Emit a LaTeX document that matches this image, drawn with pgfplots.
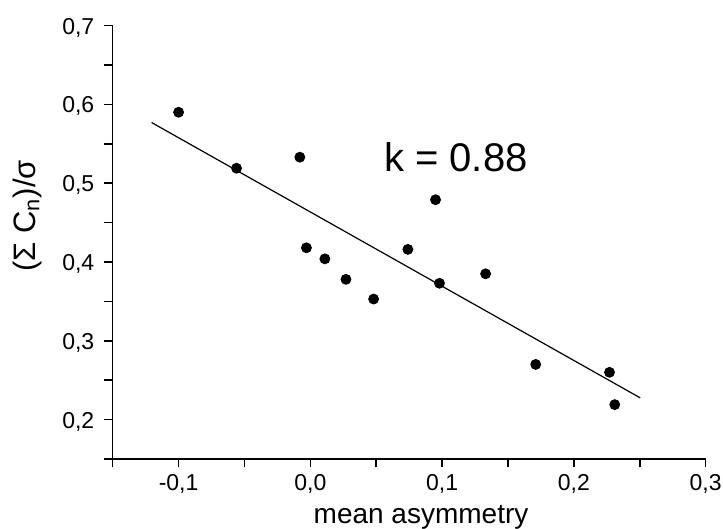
\documentclass[border=0pt]{standalone}
\usepackage{fontspec}
\setmainfont{Liberation Sans}
\usepackage{pgfplots}
\pgfplotsset{compat=1.18}

\begin{document}
\begin{tikzpicture}
    % page frame, 0.5pt per pixel of the reference
    \useasboundingbox (-56.35pt,-35pt) rectangle (305.15pt,229.5pt);
    \begin{axis}[
        at={(0,0)}, anchor=south west,
        scale only axis,
        width=296.5pt,
        height=216.7pt,
        axis lines=left,
        axis line style={-, line width=0.8pt},
        xmin=-0.15, xmax=0.3,
        ymin=0.15, ymax=0.7,
        xtick={-0.1,0,0.1,0.2,0.3},
        xticklabels={{-0,1},{0,0},{0,1},{0,2},{0,3}},
        minor xtick={-0.15,-0.05,0.05,0.15,0.25},
        ytick={0.2,0.3,0.4,0.5,0.6,0.7},
        yticklabels={{0,2},{0,3},{0,4},{0,5},{0,6},{0,7}},
        minor ytick={0.15,0.25,0.35,0.45,0.55,0.65},
        tick align=outside,
        major tick length=4.2pt,
        minor tick length=4.2pt,
        tick style={line width=0.8pt, black},
        ticklabel style={font=\fontsize{11.5}{13}\selectfont},
        yticklabel style={xshift=-1.5pt, yshift=-1pt},
        xlabel={mean asymmetry},
        xlabel style={at={(axis description cs:0.52,-0.148)}, anchor=base,
            font=\fontsize{14}{16}\selectfont},
        ylabel={(Σ C\textsubscript{n})/σ},
        ylabel style={at={(axis description cs:-0.1445,0.561)}, anchor=center,
            font=\fontsize{15.5}{17}\selectfont},
        clip=false
    ]
        % measured points
        \addplot[only marks, mark=*, mark size=2.5pt, black] coordinates {
            (-0.100, 0.590)
            (-0.056, 0.519)
            (-0.008, 0.533)
            (-0.003, 0.418)
            (0.011, 0.404)
            (0.027, 0.378)
            (0.048, 0.353)
            (0.074, 0.416)
            (0.095, 0.479)
            (0.098, 0.373)
            (0.133, 0.385)
            (0.171, 0.270)
            (0.227, 0.260)
            (0.231, 0.219)
        };
        % linear fit
        \addplot[black, line width=0.6pt] coordinates {
            (-0.1205, 0.577)
            (0.2503, 0.2276)
        };
        \node[anchor=base west, inner sep=0pt, font=\fontsize{20}{22}\selectfont]
            at (axis cs:0.0557,0.515) {k = 0.88};
    \end{axis}
\end{tikzpicture}
\end{document}
